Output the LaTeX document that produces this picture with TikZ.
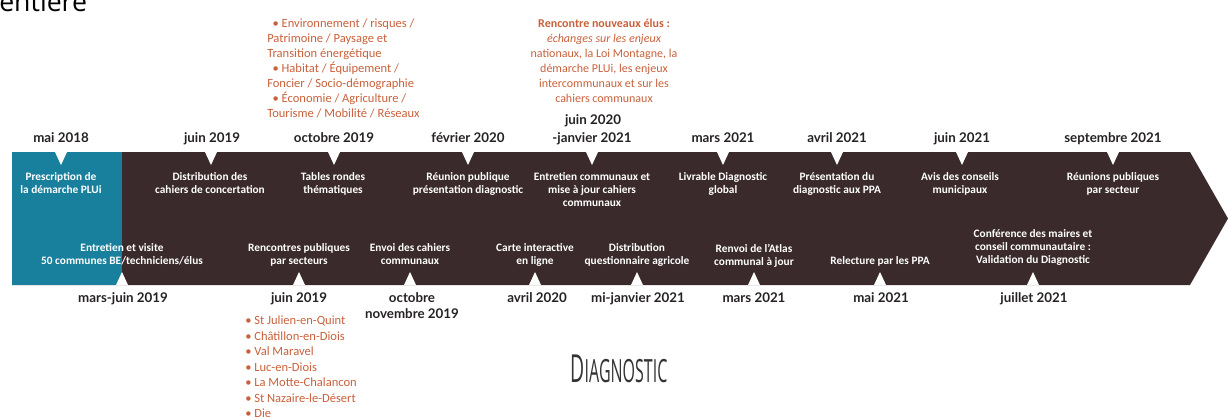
\documentclass[tikz,border=0pt]{standalone}
\usepackage{fontspec}
\setmainfont{Carlito}
\newfontfamily\datefont{Lato}
\newfontfamily\headfont{Open Sans}
\newfontfamily\titlefont[FakeStretch=0.5]{Open Sans}
\definecolor{bandbrown}{HTML}{3A2A2B}
\definecolor{bandteal}{HTML}{18809C}
\definecolor{noteorange}{HTML}{C9603B}
\definecolor{datetext}{HTML}{262222}

\begin{document}
\begin{tikzpicture}[x=0.75pt,y=-0.75pt,
  datelbl/.style={font=\datefont\bfseries\fontsize{10}{12}\selectfont, text=datetext, inner sep=0, anchor=base},
  eventlbl/.style={font=\bfseries\fontsize{8.5}{9.75}\selectfont, text=white, align=center, inner sep=0, anchor=north},
  notelbl/.style={font=\fontsize{9.4}{11.25}\selectfont, text=noteorange, inner sep=0},
  downmark/.pic={\fill[white] (-6,0) -- (6,0) -- (0,13) -- cycle;},
  upmark/.pic={\fill[white] (-6,0) -- (6,0) -- (0,-13) -- cycle;}]
\useasboundingbox (0,0) rectangle (1228,419);
\clip (0,0) rectangle (1228,419);

% heading cut by the top edge
\node[anchor=base west, inner sep=0, font=\headfont\fontsize{20}{24}\selectfont, text=black] (head) at (-1,11) {entière};

% timeline band
\fill[bandbrown] (12,152) -- (1190,152) -- (1228,218.5) -- (1190,285) -- (12,285) -- cycle;
\fill[bandteal] (12,152) rectangle (122,285);

% markers on the upper edge
\foreach \x in {61,211,334,468,592,723,837,962,1113}
  \pic at (\x,152) {downmark};
% markers on the lower edge
\foreach \x in {122,299,410,535,637,754,880,1033}
  \pic at (\x,285) {upmark};

% upper dates
\node[datelbl] (t1) at (61,142.5) {mai 2018};
\node[datelbl] (t2) at (212,142.5) {juin 2019};
\node[datelbl] (t3) at (334,142.5) {octobre 2019};
\node[datelbl] (t4) at (468,142.5) {février 2020};
\node[datelbl] (t5a) at (593,124.5) {juin 2020};
\node[datelbl] (t5b) at (592,142.5) {-janvier 2021};
\node[datelbl] (t6) at (723,142.5) {mars 2021};
\node[datelbl] (t7) at (837,142.5) {avril 2021};
\node[datelbl] (t8) at (962,142.5) {juin 2021};
\node[datelbl] (t9) at (1113,142.5) {septembre 2021};

% lower dates
\node[datelbl] (b1) at (123,302.5) {mars-juin 2019};
\node[datelbl] (b2) at (299,302.5) {juin 2019};
\node[datelbl] (b3a) at (412,302.5) {octobre};
\node[datelbl] (b3b) at (412,318.5) {novembre 2019};
\node[datelbl] (b4) at (537,302.5) {avril 2020};
\node[datelbl] (b5) at (638,302.5) {mi-janvier 2021};
\node[datelbl] (b6) at (754,302.5) {mars 2021};
\node[datelbl] (b7) at (881,302.5) {mai 2021};
\node[datelbl] (b8) at (1034,302.5) {juillet 2021};

% upper events
\node[eventlbl] (e1) at (61,172.5) {Prescription de\\la démarche PLUi};
\node[eventlbl] (e2) at (210,172.5) {Distribution des\\cahiers de concertation};
\node[eventlbl] (e3) at (333,172.5) {Tables rondes\\thématiques};
\node[eventlbl] (e4) at (468,172.5) {Réunion publique\\présentation diagnostic};
\node[eventlbl] (e5) at (592,172.5) {Entretien communaux et\\mise à jour cahiers\\communaux};
\node[eventlbl] (e6) at (723,172.5) {Livrable Diagnostic\\global};
\node[eventlbl] (e7) at (837,172.5) {Présentation du\\diagnostic aux PPA};
\node[eventlbl] (e8) at (960,172.5) {Avis des conseils\\municipaux};
\node[eventlbl] (e9) at (1113,172.5) {Réunions publiques\\par secteur};

% lower events
\node[eventlbl] (f1) at (122,243.5) {Entretien et visite\\50 communes BE/techniciens/élus};
\node[eventlbl] (f2) at (299,243.5) {Rencontres publiques\\par secteurs};
\node[eventlbl] (f3) at (410,243.5) {Envoi des cahiers\\communaux};
\node[eventlbl] (f4) at (535,243.5) {Carte interactive\\en ligne};
\node[eventlbl] (f5) at (637,243.5) {Distribution\\questionnaire agricole};
\node[eventlbl] (f6) at (754,243.5) {Renvoi de l’Atlas\\communal à jour};
\node[eventlbl] (f7) at (880,256.5) {Relecture par les PPA};
\node[eventlbl] (f8) at (1033,229.5) {Conférence des maires et\\conseil communautaire :\\Validation du Diagnostic};

% notes in orange
\node[notelbl, anchor=north west, align=left] (n1) at (267,19)
  {\hspace*{4pt}• Environnement / risques /\\Patrimoine / Paysage et\\Transition énergétique\\
   \hspace*{4pt}• Habitat / Équipement /\\Foncier / Socio-démographie\\
   \hspace*{4pt}• Économie / Agriculture /\\Tourisme / Mobilité / Réseaux};
\node[notelbl, anchor=north, align=center, font=\fontsize{9}{11.25}\selectfont] (n2) at (604,18.5)
  {\textbf{Rencontre nouveaux élus :}\\\itshape échanges sur les enjeux\\nationaux, la Loi Montagne, la\\démarche PLUi, les enjeux\\intercommunaux et sur les\\cahiers communaux};
\node[notelbl, anchor=north west, align=left, font=\fontsize{9.4}{11.6}\selectfont] (n3) at (245,316)
  {• St Julien-en-Quint\\• Châtillon-en-Diois\\• Val Maravel\\• Luc-en-Diois\\• La Motte-Chalancon\\• St Nazaire-le-Désert\\• Die};

% section title
\node[inner sep=0, text=black!80, font=\titlefont] (title) at (619,369)
  {\fontsize{29}{29}\selectfont D\fontsize{24}{29}\selectfont IAGNOSTIC};
\end{tikzpicture}
\end{document}
